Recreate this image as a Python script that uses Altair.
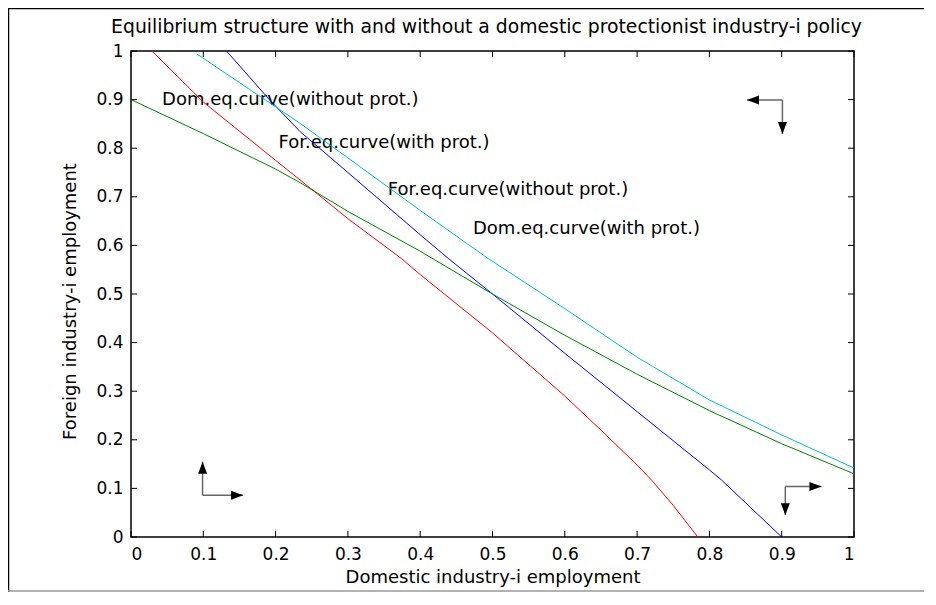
import altair as alt
import pandas as pd

# ---- data ----
red_x = [0.029, 0.1, 0.2, 0.257, 0.3, 0.374, 0.4, 0.5, 0.6, 0.65, 0.7, 0.72, 0.75, 0.784]
red_y = [1.0, 0.895, 0.775, 0.707, 0.655, 0.573, 0.54, 0.42, 0.29, 0.22, 0.148, 0.117, 0.065, 0.0]

blue_x = [0.132, 0.192, 0.234, 0.3, 0.4, 0.439, 0.5, 0.6, 0.7, 0.8, 0.817, 0.9]
blue_y = [1.0, 0.899, 0.834, 0.75, 0.622, 0.573, 0.5, 0.378, 0.258, 0.138, 0.117, 0.0]

cyan_x = [0.091, 0.15, 0.2, 0.234, 0.3, 0.4, 0.494, 0.6, 0.7, 0.8, 0.9, 1.0]
cyan_y = [0.994, 0.935, 0.885, 0.851, 0.78, 0.672, 0.573, 0.47, 0.37, 0.282, 0.21, 0.142]

green_x = [0.0, 0.1, 0.2, 0.234, 0.3, 0.4, 0.5, 0.6, 0.7, 0.8, 0.9, 1.0]
green_y = [0.9, 0.83, 0.757, 0.729, 0.67, 0.588, 0.5, 0.415, 0.335, 0.26, 0.192, 0.13]

series_names = ["red", "blue", "cyan", "green"]
series_hex = ["#ff0000", "#0000ff", "#00bfbf", "#008000"]

label_texts = ["Dom.eq.curve(without prot.)", "For.eq.curve(with prot.)",
               "For.eq.curve(without prot.)", "Dom.eq.curve(with prot.)"]
label_x = [0.043, 0.204, 0.355, 0.473]
label_y = [0.899, 0.81, 0.714, 0.633]

# arrow segments (phase-diagram direction arrows)
seg_x = [0.099, 0.099, 0.905, 0.905, 0.901, 0.901]
seg_y = [0.086, 0.086, 0.104, 0.104, 0.899, 0.899]
seg_x2 = [0.099, 0.155, 0.955, 0.905, 0.852, 0.901]
seg_y2 = [0.155, 0.086, 0.104, 0.045, 0.899, 0.829]
seg_dir = ["up", "right", "right", "down", "left", "down"]

tick_vals = [0, 0.1, 0.2, 0.3, 0.4, 0.5, 0.6, 0.7, 0.8, 0.9, 1]

title_text = "Equilibrium structure with and without a domestic protectionist industry-i policy"
x_title = "Domestic industry-i employment"
y_title = "Foreign industry-i employment"

# ---- tables ----
rows = []
for name, xs_, ys_ in [("red", red_x, red_y), ("blue", blue_x, blue_y),
                       ("cyan", cyan_x, cyan_y), ("green", green_x, green_y)]:
    for i, (a, b) in enumerate(zip(xs_, ys_)):
        rows.append({"series": name, "x": a, "y": b, "i": i})
curves = pd.DataFrame(rows)

labels = pd.DataFrame({"text": label_texts, "x": label_x, "y": label_y})

head_paths = {
    "up": "M0,0L0.75,2L-0.75,2Z",
    "down": "M0,0L0.75,-2L-0.75,-2Z",
    "right": "M0,0L-2,0.75L-2,-0.75Z",
    "left": "M0,0L2,0.75L2,-0.75Z",
}
segs = pd.DataFrame({"x": seg_x, "y": seg_y, "x2": seg_x2, "y2": seg_y2,
                     "shape": [head_paths[d] for d in seg_dir]})
ticks = pd.DataFrame({"v": tick_vals})
one = pd.DataFrame({"title": [title_text]})

W, H = 723, 486
TICK = 6
FONT = "DejaVu Sans"

xs = alt.Scale(domain=[0, 1], nice=False, zero=False)
ys = alt.Scale(domain=[0, 1], nice=False, zero=False)

x_axis = alt.Axis(values=tick_vals, format="~g", title=x_title, domain=False, ticks=False,
                  grid=False, labelPadding=9, titleY=40, titleBaseline="middle")
y_axis = alt.Axis(values=tick_vals, format="~g", title=y_title, domain=False, ticks=False,
                  grid=False, labelPadding=8, titleX=-61, titleY=250, titleAngle=270,
                  titleBaseline="middle")


def X(field):
    return alt.X(field, type="quantitative", scale=xs, axis=x_axis)


def Y(field):
    return alt.Y(field, type="quantitative", scale=ys, axis=y_axis)


tick_bottom = alt.Chart(ticks).mark_rule(color="black", strokeWidth=1).encode(
    x=X("v"), y=alt.value(H), y2=alt.value(H - TICK))
tick_top = alt.Chart(ticks).mark_rule(color="black", strokeWidth=1).encode(
    x=X("v"), y=alt.value(0), y2=alt.value(TICK))
tick_left = alt.Chart(ticks).mark_rule(color="black", strokeWidth=1).encode(
    y=Y("v"), x=alt.value(0), x2=alt.value(TICK))
tick_right = alt.Chart(ticks).mark_rule(color="black", strokeWidth=1).encode(
    y=Y("v"), x=alt.value(W), x2=alt.value(W - TICK))

arrows = alt.Chart(segs).mark_rule(color="#666666", strokeWidth=1.5).encode(
    x=X("x"), y=Y("y"), x2="x2:Q", y2="y2:Q")
heads = alt.Chart(segs).mark_point(filled=True, color="black", opacity=1, size=144,
                                   strokeWidth=0).encode(
    x=X("x2"), y=Y("y2"), shape=alt.Shape("shape:N", scale=None))

texts = alt.Chart(labels).mark_text(align="left", baseline="middle", font=FONT,
                                    fontSize=18, color="black").encode(
    x=X("x"), y=Y("y"), text="text:N")

lines = alt.Chart(curves).mark_line(strokeWidth=1).encode(
    x=X("x"), y=Y("y"),
    color=alt.Color("series:N", scale=alt.Scale(domain=series_names, range=series_hex),
                    legend=None),
    order="i:Q",
)

# chart title (placed above the plot frame) and outer figure frame (decorative)
title_mark = alt.Chart(one).mark_text(align="center", baseline="alphabetic",
                                      font=FONT, fontSize=18.8, color="black").encode(
    x=alt.value(W / 2 - 6), y=alt.value(-18), text="title:N")
frame_left = alt.Chart(one).mark_rule(color="black", strokeWidth=1.5).encode(
    x=alt.value(-122.5), y=alt.value(-43), y2=alt.value(541))
frame_top = alt.Chart(one).mark_rule(color="black", strokeWidth=1.5).encode(
    y=alt.value(-42.5), x=alt.value(-123), x2=alt.value(W + 70))
frame_bottom = alt.Chart(one).mark_rule(color="#999999", strokeWidth=1.5).encode(
    y=alt.value(540), x=alt.value(-123), x2=alt.value(W + 70))

chart = alt.layer(
    title_mark, frame_left, frame_top, frame_bottom,
    tick_bottom, tick_top, tick_left, tick_right, texts, arrows, heads, lines,
).properties(
    width=W, height=H,
    autosize=alt.AutoSizeParams(type="none"),
    padding={"left": 123, "top": 43, "right": 70, "bottom": 55},
    background="white",
).configure_view(
    stroke="black", strokeWidth=1.5
).configure_axis(
    labelFont=FONT, labelFontSize=17, labelColor="black",
    titleFont=FONT, titleFontSize=18, titleFontWeight="normal", titleColor="black",
)

chart.save("out.html", embed_options={"renderer": "svg", "actions": False})
